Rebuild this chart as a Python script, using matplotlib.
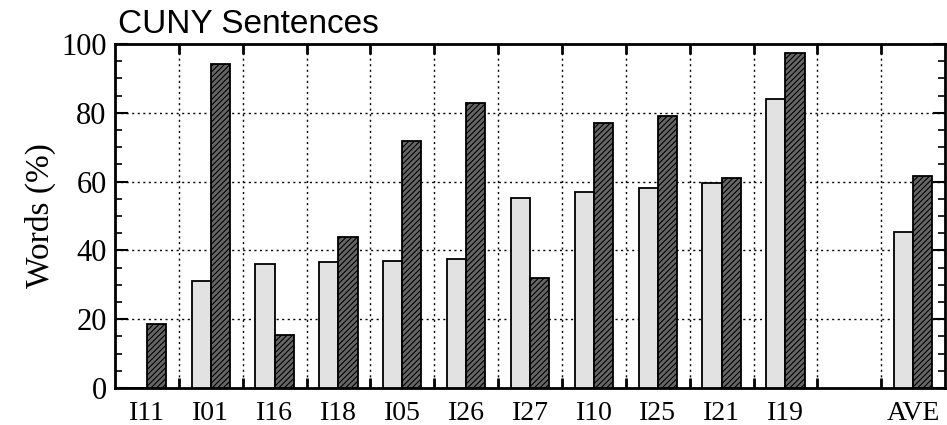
import numpy as np
import matplotlib.pyplot as plt
from matplotlib.ticker import MultipleLocator, FixedLocator

# word recognition per speaker, two conditions
sprekers = ['I11', 'I01', 'I16', 'I18', 'I05', 'I26', 'I27', 'I10', 'I25', 'I21', 'I19', '', 'AVE']
licht = [0, 31.2, 36.0, 36.7, 36.9, 37.4, 55.3, 57.1, 58.0, 59.7, 83.9, None, 45.4]
donker = [18.5, 94.2, 15.3, 43.8, 71.8, 82.8, 32.0, 77.1, 79.2, 61.1, 97.5, None, 61.7]

serif = ['Liberation Serif', 'DejaVu Serif']
plt.rcParams['hatch.color'] = '#9a9a9a'
plt.rcParams['hatch.linewidth'] = 0.8

fig = plt.figure(figsize=(9.47, 4.25), dpi=100)
ax = fig.add_axes([0.1214, 0.087, 0.8766, 0.8095])

x = np.arange(len(sprekers))
breedte = 0.3
for i in range(len(sprekers)):
    if licht[i] is None:
        continue
    ax.bar(x[i] - breedte / 2, licht[i], breedte, color='#e2e2e2',
           edgecolor='black', linewidth=1.3, zorder=3)
    ax.bar(x[i] + breedte / 2, donker[i], breedte, color='#666666',
           edgecolor='black', linewidth=1.3, hatch='//////', zorder=3)

ax.set_xlim(-0.5, len(sprekers) - 0.5)
ax.set_ylim(0, 100)

ax.set_xticks(x)
ax.set_xticklabels(sprekers, fontfamily=serif, fontsize=20)
ax.xaxis.set_minor_locator(FixedLocator(x[:-1] + 0.5))
ax.tick_params(axis='x', which='major', length=0, pad=9)
ax.tick_params(axis='x', which='minor', direction='in', length=7, width=2,
               top=True, bottom=True)

ax.yaxis.set_major_locator(MultipleLocator(20))
ax.yaxis.set_minor_locator(MultipleLocator(5))
ax.tick_params(axis='y', which='major', direction='in', length=9, width=1.5,
               left=True, right=True, labelsize=22, pad=6)
ax.tick_params(axis='y', which='minor', direction='in', length=5, width=1.2,
               left=True, right=True)
for lbl in ax.get_yticklabels():
    lbl.set_fontfamily(serif)

ax.grid(True, axis='x', which='minor', linestyle=(0, (1.5, 2.5)), color='black',
        linewidth=1, zorder=1)
ax.grid(True, axis='y', which='major', linestyle=(0, (1.5, 2.5)), color='black',
        linewidth=1, zorder=1)

for s in ax.spines.values():
    s.set_linewidth(2)

ax.set_ylabel('Words (%)', fontfamily=serif, fontsize=24, labelpad=4)
fig.text(0.125, 0.922, 'CUNY Sentences', fontfamily='Liberation Sans',
         fontsize=24, va='baseline', ha='left')

fig.savefig('out.png', dpi=100)
